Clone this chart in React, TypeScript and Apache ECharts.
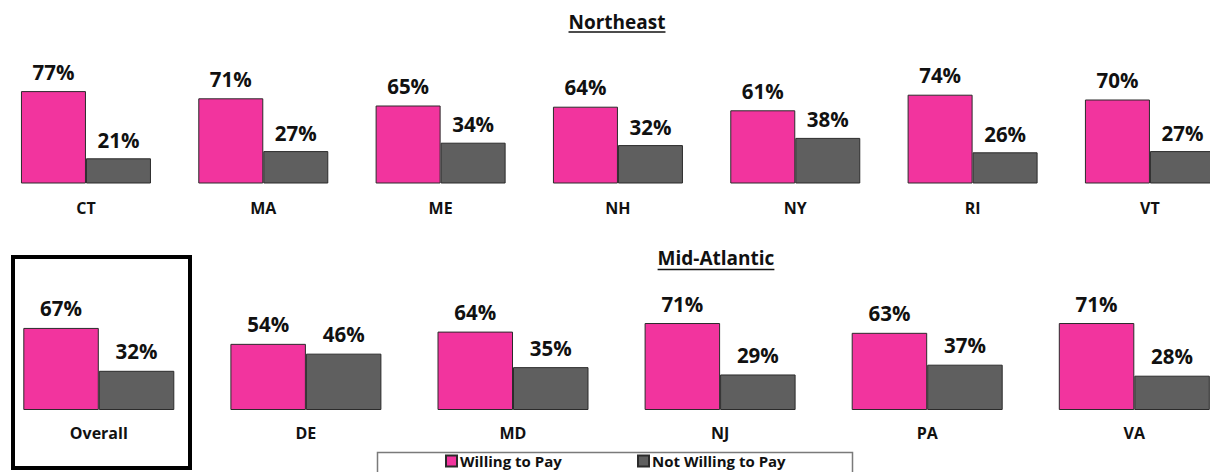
import React, { useEffect, useRef } from "react";
import * as echarts from "echarts";

const NE_STATES = ["CT", "MA", "ME", "NH", "NY", "RI", "VT"];
const NE_WILLING = [77, 71, 65, 64, 61, 74, 70];
const NE_NOT = [21, 27, 34, 32, 38, 26, 27];

const MA_CATS = ["Overall", "DE", "MD", "NJ", "PA", "VA"];
const MA_WILLING = [67, 54, 64, 71, 63, 71];
const MA_NOT = [32, 46, 35, 29, 37, 28];

const SERIES_NAMES = ["Willing to Pay", "Not Willing to Pay"];
const TITLES = ["Northeast", "Mid-Atlantic"];

const PINK = "#F2349E";
const GRAY = "#5F5F5F";
const FONT = "'Open Sans', sans-serif";

function measure(text: string, font: string): number {
  const c = document.createElement("canvas");
  const ctx = c.getContext("2d");
  if (!ctx) return text.length * 10;
  ctx.font = font;
  return ctx.measureText(text).width;
}

export default function App() {
  const ref = useRef<HTMLDivElement>(null);
  useEffect(() => {
    if (!ref.current) return;
    const chart = echarts.init(ref.current, undefined, { renderer: "svg" });

    const titleFont = `bold 19px 'Open Sans'`;
    const w1 = measure(TITLES[0], titleFont);
    const w2 = measure(TITLES[1], titleFont);

    const valueLabel = (dist: number) => ({
      show: true,
      position: "top",
      distance: dist,
      formatter: "{c}%",
      fontFamily: FONT,
      fontWeight: "bold",
      fontSize: 20.5,
      color: "#111",
    });

    const barStyle = (color: string) => ({
      color,
      borderColor: "#2b2b2b",
      borderWidth: 1,
    });

    const catAxis = (data: string[], gridIndex: number, margin: number) => ({
      type: "category",
      gridIndex,
      data,
      axisLine: { show: false },
      axisTick: { show: false },
      axisLabel: {
        interval: 0,
        margin,
        fontFamily: FONT,
        fontWeight: "bold",
        fontSize: 16,
        color: "#111",
      },
    });

    const valAxis = (gridIndex: number) => ({
      type: "value",
      gridIndex,
      min: 0,
      max: 100,
      show: false,
      splitLine: { show: false },
    });

    const legendText = {
      fontFamily: FONT,
      fontWeight: "bold",
      fontSize: 15,
      lineHeight: 15,
      color: "#111",
      padding: [0, 0, 0, -2],
    };

    chart.setOption({
      animation: false,
      backgroundColor: "#ffffff",
      grid: [
        { left: -2.7, top: 63.5, width: 1241.3, height: 120, containLabel: false, outerBoundsMode: "none" },
        { left: -4.75, top: 287.5, width: 1242.6, height: 122.5, containLabel: false, outerBoundsMode: "none" },
      ],
      xAxis: [catAxis(NE_STATES, 0, 16), catAxis(MA_CATS, 1, 15)],
      yAxis: [valAxis(0), valAxis(1)],
      legend: [
        {
          data: [SERIES_NAMES[0]],
          left: 445,
          top: 453.5,
          padding: 0,
          itemWidth: 11,
          itemHeight: 11,
          icon: "rect",
          selectedMode: false,
          textStyle: legendText,
        },
        {
          data: [SERIES_NAMES[1]],
          left: 637,
          top: 453.5,
          padding: 0,
          itemWidth: 11,
          itemHeight: 11,
          icon: "rect",
          selectedMode: false,
          textStyle: legendText,
        },
      ],
      series: [
        {
          name: SERIES_NAMES[0],
          type: "bar",
          xAxisIndex: 0,
          yAxisIndex: 0,
          data: NE_WILLING,
          barWidth: 65,
          barGap: "0%",
          itemStyle: barStyle(PINK),
          label: valueLabel(9),
        },
        {
          name: SERIES_NAMES[1],
          type: "bar",
          xAxisIndex: 0,
          yAxisIndex: 0,
          data: NE_NOT,
          barWidth: 65,
          barGap: "0%",
          itemStyle: barStyle(GRAY),
          label: valueLabel(8),
        },
        {
          name: SERIES_NAMES[0],
          type: "bar",
          xAxisIndex: 1,
          yAxisIndex: 1,
          data: MA_WILLING,
          barWidth: 75.5,
          barGap: "0%",
          itemStyle: barStyle(PINK),
          label: valueLabel(9),
        },
        {
          name: SERIES_NAMES[1],
          type: "bar",
          xAxisIndex: 1,
          yAxisIndex: 1,
          data: MA_NOT,
          barWidth: 75.5,
          barGap: "0%",
          itemStyle: barStyle(GRAY),
          label: valueLabel(9),
        },
      ],
      graphic: [
        {
          type: "text",
          x: 617,
          y: 21.5,
          style: {
            text: TITLES[0],
            fontFamily: FONT,
            fontWeight: "bold",
            fontSize: 19,
            fill: "#111",
            textAlign: "center",
            textVerticalAlign: "middle",
          },
        },
        {
          type: "line",
          shape: { x1: 617 - w1 / 2, y1: 32, x2: 617 + w1 / 2, y2: 32 },
          style: { stroke: "#111", lineWidth: 1.6 },
        },
        {
          type: "text",
          x: 716,
          y: 258,
          style: {
            text: TITLES[1],
            fontFamily: FONT,
            fontWeight: "bold",
            fontSize: 19,
            fill: "#111",
            textAlign: "center",
            textVerticalAlign: "middle",
          },
        },
        {
          type: "line",
          shape: { x1: 716 - w2 / 2, y1: 269.5, x2: 716 + w2 / 2, y2: 269.5 },
          style: { stroke: "#111", lineWidth: 1.6 },
        },
        {
          type: "rect",
          shape: { x: 13, y: 257, width: 177, height: 211 },
          style: { fill: "none", stroke: "#000", lineWidth: 4 },
        },
        {
          type: "rect",
          shape: { x: 377.5, y: 452.5, width: 475, height: 30 },
          style: { fill: "none", stroke: "#7a7a7a", lineWidth: 1.5 },
        },
      ],
    });

    return () => chart.dispose();
  }, []);

  return (
    <div
      ref={ref}
      style={{ position: "absolute", left: 0, top: 0, width: 1210, height: 472 }}
    />
  );
}
